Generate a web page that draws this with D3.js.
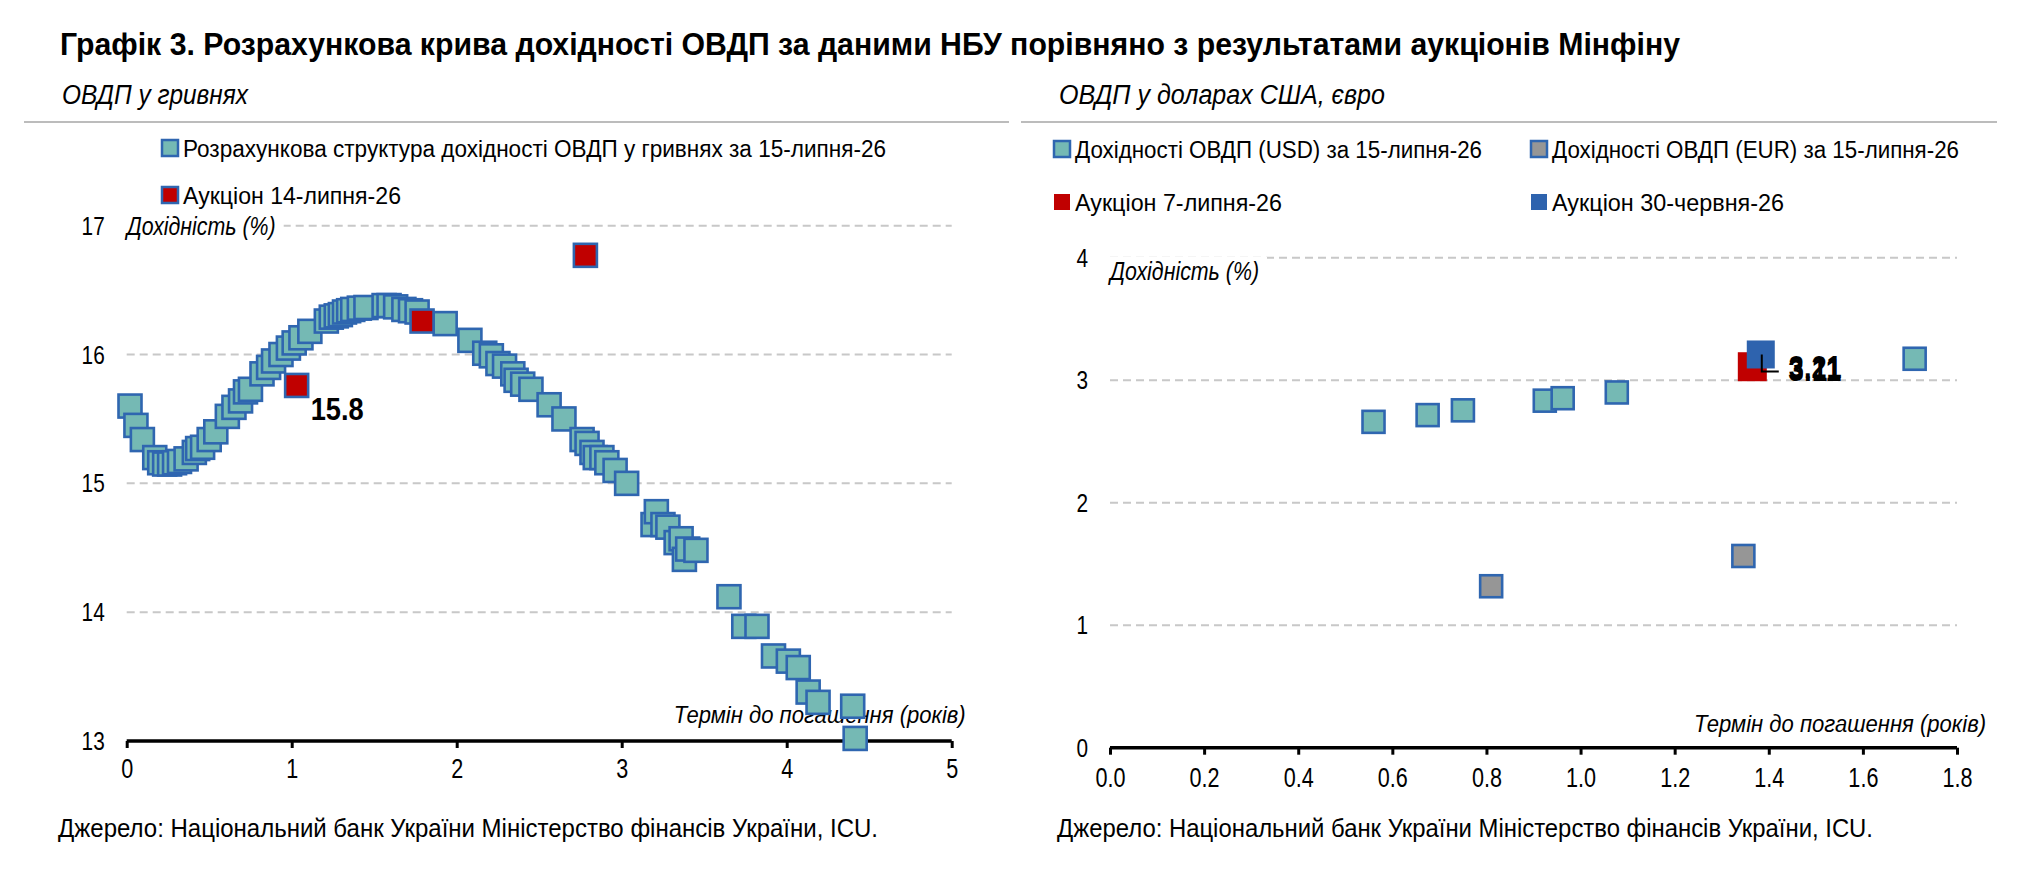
<!DOCTYPE html>
<html>
<head>
<meta charset="utf-8">
<script src="https://cdn.jsdelivr.net/npm/d3@7"></script>
<style>
  body { margin: 0; background: #fff; }
  svg text { font-family: "Liberation Sans Narrow", "Arial Narrow", "Liberation Sans", sans-serif; fill: #000; }
</style>
</head>
<body>
<script>
// ---- data: UAH curve (term in years, yield %)
var uahTerm = [0.02, 0.056, 0.095, 0.17, 0.20, 0.23, 0.26, 0.29, 0.32, 0.36, 0.41, 0.43, 0.46, 0.50, 0.54,
  0.61, 0.65, 0.69, 0.72, 0.75, 0.82, 0.86, 0.89, 0.935, 0.98, 1.015, 1.056, 1.11, 1.21, 1.24, 1.27, 1.295,
  1.32, 1.345, 1.37, 1.41, 1.45, 1.56, 1.59, 1.63, 1.68, 1.72, 1.76, 1.93, 2.08, 2.17, 2.21, 2.25, 2.29,
  2.34, 2.36, 2.40, 2.45, 2.56, 2.65, 2.76, 2.79, 2.82, 2.84, 2.88, 2.91, 2.96, 3.03, 3.19, 3.21, 3.25,
  3.28, 3.33, 3.36, 3.38, 3.40, 3.45, 3.65, 3.74, 3.82, 3.92, 4.01, 4.07, 4.13, 4.19, 4.40, 4.415];
var uahYield = [15.60, 15.45, 15.34, 15.20, 15.16, 15.15, 15.15, 15.16, 15.17, 15.19, 15.24, 15.27, 15.28, 15.34, 15.40,
  15.52, 15.59, 15.64, 15.71, 15.73, 15.85, 15.90, 15.95, 16.00, 16.05, 16.09, 16.13, 16.18, 16.26, 16.29, 16.30, 16.31,
  16.33, 16.34, 16.35, 16.36, 16.365, 16.38, 16.38, 16.37, 16.35, 16.34, 16.33, 16.24, 16.11, 16.01, 15.99, 15.93, 15.91,
  15.85, 15.80, 15.77, 15.73, 15.61, 15.50, 15.34, 15.31, 15.24, 15.20, 15.20, 15.16, 15.10, 15.00, 14.68, 14.78, 14.68,
  14.66, 14.54, 14.57, 14.41, 14.49, 14.48, 14.12, 13.89, 13.89, 13.66, 13.62, 13.57, 13.38, 13.30, 13.27, 13.02];
// UAH auction 14 July
var aucUahTerm = [1.03, 1.79, 2.78];
var aucUahYield = [15.76, 16.26, 16.77];
var aucUahLabel = ["15.8", "", ""];

// ---- data: FX bonds
var usdTerm = [0.56, 0.675, 0.75, 0.924, 0.962, 1.077, 1.71];
var usdYield = [2.66, 2.715, 2.754, 2.833, 2.853, 2.90, 3.175];
var eurTerm = [0.81, 1.346];
var eurYield = [1.318, 1.565];
var auc7Term = [1.365], auc7Yield = [3.11], auc7Label = ["3.11"];
var auc30Term = [1.383], auc30Yield = [3.21], auc30Label = ["3.21"];

var leftTicksX = [0, 1, 2, 3, 4, 5];
var leftTicksY = [13, 14, 15, 16, 17];
var rightTicksX = [0, 0.2, 0.4, 0.6, 0.8, 1.0, 1.2, 1.4, 1.6, 1.8];
var rightTicksY = [0, 1, 2, 3, 4];

var TEAL = "#75b9b4", EDGE = "#2f66b0", RED = "#c00000", GREY = "#969696", BLUE = "#2e63ae";

var W = 2022, H = 871;
var svg = d3.select("body").append("svg").attr("width", W).attr("height", H);

// squeeze text to the narrow width of the original face
function fit(sel, w) {
  return sel.attr("textLength", w).attr("lengthAdjust", "spacingAndGlyphs");
}
function narrow(sel) {
  var w = sel.node().getComputedTextLength();
  return fit(sel, w * 0.8);
}

// title
fit(svg.append("text").attr("x", 60).attr("y", 55)
  .attr("font-size", 32).attr("font-weight", "bold")
  .text("Графік 3. Розрахункова крива дохідності ОВДП за даними НБУ порівняно з результатами аукціонів Мінфіну"), 1620);

function panelHead(x0, x1, sub, w) {
  fit(svg.append("text").attr("x", x0 + 38).attr("y", 104)
    .attr("font-size", 27).attr("font-style", "italic").text(sub), w);
  svg.append("line").attr("x1", x0).attr("x2", x1).attr("y1", 122).attr("y2", 122)
    .attr("stroke", "#a6a6a6").attr("stroke-width", 1.5);
}
panelHead(24, 1009, "ОВДП у гривнях", 186);
panelHead(1021, 1997, "ОВДП у доларах США, євро", 326);

function legendItem(x, y, fill, stroke, label, w) {
  svg.append("rect").attr("x", x).attr("y", y - 17).attr("width", 16).attr("height", 16)
    .attr("fill", fill).attr("stroke", stroke || "none").attr("stroke-width", stroke ? 2.5 : 0);
  fit(svg.append("text").attr("x", x + 21).attr("y", y).attr("font-size", 23).text(label), w);
}
legendItem(162, 157, TEAL, EDGE, "Розрахункова структура дохідності ОВДП у гривнях за 15-липня-26", 703);
legendItem(162, 204, RED, EDGE, "Аукціон 14-липня-26", 218);
legendItem(1054, 158, TEAL, EDGE, "Дохідності ОВДП (USD) за 15-липня-26", 407);
legendItem(1531, 158, GREY, EDGE, "Дохідності ОВДП (EUR) за 15-липня-26", 407);
legendItem(1054, 211, RED, null, "Аукціон 7-липня-26", 207);
legendItem(1531, 211, BLUE, null, "Аукціон 30-червня-26", 232);

function panel(opt) {
  var x = d3.scaleLinear().domain(opt.xd).range(opt.xr);
  var y = d3.scaleLinear().domain(opt.yd).range(opt.yr);
  var g = svg.append("g");

  // grid
  g.selectAll(".grid").data(opt.yTicks.filter(function (d) { return d !== opt.yd[0]; }))
    .enter().append("line")
    .attr("x1", opt.xr[0]).attr("x2", opt.xr[1])
    .attr("y1", function (d) { return y(d); }).attr("y2", function (d) { return y(d); })
    .attr("stroke", "#c8c8c8").attr("stroke-width", 2).attr("stroke-dasharray", "8,5");

  // y labels
  g.selectAll(".yl").data(opt.yTicks).enter().append("text")
    .attr("x", opt.xr[0] - 22).attr("y", function (d) { return y(d) + 9; })
    .attr("text-anchor", "end").attr("font-size", 26).text(function (d) { return d; })
    .each(function () { narrow(d3.select(this)); });

  // y title with white backing
  var yt = fit(g.append("text").attr("x", opt.xr[0]).attr("y", y(opt.yd[1]) + opt.ytDy)
    .attr("font-size", 25).attr("font-style", "italic").text("Дохідність (%)"), 149);
  var bb = yt.node().getBBox();
  g.insert("rect", "text").attr("x", bb.x - 2).attr("y", bb.y).attr("width", bb.width + 10).attr("height", bb.height)
    .attr("fill", "#fff");

  // x title
  fit(g.append("text").attr("x", opt.xr[1] + opt.xtDx - 292).attr("y", opt.xtY)
    .attr("font-size", 23).attr("font-style", "italic")
    .text("Термін до погашення (років)"), 292);

  // x axis
  var ax = g.append("g").attr("transform", "translate(0," + y(opt.yd[0]) + ")")
    .call(d3.axisBottom(x).tickValues(opt.xTicks).tickSize(7).tickPadding(opt.pad)
      .tickFormat(opt.fmt));
  ax.select(".domain").attr("stroke", "#000").attr("stroke-width", 3.5)
    .attr("d", "M" + opt.xr[0] + ",0H" + opt.xr[1]);
  ax.selectAll(".tick line").attr("stroke", "#000").attr("stroke-width", 3);
  ax.selectAll(".tick text").attr("font-size", 27).attr("font-family", null).attr("fill", "#000")
    .each(function () { narrow(d3.select(this)); });

  return { x: x, y: y, g: g };
}

function squares(p, tx, ty, fill, stroke, size) {
  var pts = tx.map(function (t, i) { return [t, ty[i]]; });
  p.g.append("g").selectAll("rect").data(pts).enter().append("rect")
    .attr("x", function (d) { return p.x(d[0]) - size / 2; })
    .attr("y", function (d) { return p.y(d[1]) - size / 2; })
    .attr("width", size).attr("height", size)
    .attr("fill", fill)
    .attr("stroke", stroke || "none").attr("stroke-width", stroke ? 2.6 : 0);
}

// ---- left panel
var L = panel({ xd: [0, 5], xr: [126.7, 951.7], yd: [13, 17], yr: [741, 225.7],
  xTicks: leftTicksX, yTicks: leftTicksY, fmt: d3.format("d"), ytDy: 9, xtDx: 14, xtY: 723, pad: 11 });
squares(L, uahTerm, uahYield, TEAL, EDGE, 23);
squares(L, aucUahTerm, aucUahYield, RED, EDGE, 23);
L.g.selectAll(".lab").data(aucUahTerm).enter().append("text")
  .attr("x", function (d) { return L.x(d) + 14; })
  .attr("y", function (d, i) { return L.y(aucUahYield[i]) + 35; })
  .attr("font-size", 31).attr("font-weight", "bold")
  .text(function (d, i) { return aucUahLabel[i]; })
  .each(function () { if (this.textContent) fit(d3.select(this), 53); });

// ---- right panel
var R = panel({ xd: [0, 1.8], xr: [1110, 1957], yd: [0, 4], yr: [747.7, 257.7],
  xTicks: rightTicksX, yTicks: rightTicksY, fmt: d3.format(".1f"), ytDy: 22, xtDx: 29, xtY: 732, pad: 13 });
squares(R, usdTerm, usdYield, TEAL, EDGE, 22);
squares(R, eurTerm, eurYield, GREY, EDGE, 22);
squares(R, auc7Term, auc7Yield, RED, null, 29);
squares(R, auc30Term, auc30Yield, BLUE, null, 28);

// leader + labels for FX auctions
var lx = R.x(auc30Term[0]), ly = R.y(auc30Yield[0]);
R.g.append("path").attr("d", "M" + (lx + 1) + "," + ly + "V" + (ly + 17) + "H" + (lx + 18))
  .attr("fill", "none").attr("stroke", "#000").attr("stroke-width", 2);
fit(R.g.append("text").attr("x", R.x(auc7Term[0]) + 36).attr("y", R.y(auc7Yield[0]) + 14)
  .attr("font-size", 32).attr("font-weight", "bold").text(auc7Label[0]), 53);
fit(R.g.append("text").attr("x", R.x(auc30Term[0]) + 28).attr("y", R.y(auc30Yield[0]) + 24)
  .attr("font-size", 32).attr("font-weight", "bold").text(auc30Label[0]), 53);

// sources
fit(svg.append("text").attr("x", 58).attr("y", 837).attr("font-size", 25)
  .text("Джерело: Національний банк України Міністерство фінансів України, ICU."), 820);
fit(svg.append("text").attr("x", 1057).attr("y", 837).attr("font-size", 25)
  .text("Джерело: Національний банк України Міністерство фінансів України, ICU."), 816);
</script>
</body>
</html>
